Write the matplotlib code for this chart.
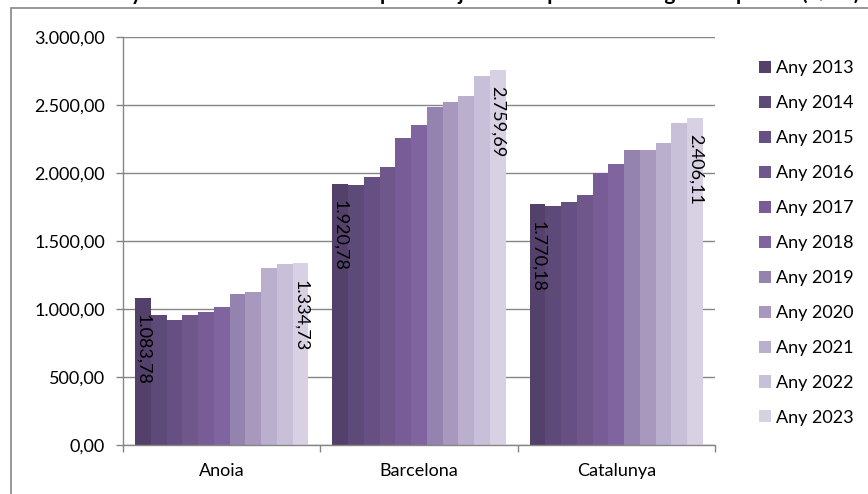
import numpy as np
import matplotlib.pyplot as plt
from matplotlib.patches import Rectangle, Patch
from matplotlib.ticker import FuncFormatter

plt.rcParams['font.family'] = ['Lato', 'DejaVu Sans']

# Dades: preu per zona i any
zones = ['Anoia', 'Barcelona', 'Catalunya']
anys = ['Any 2013', 'Any 2014', 'Any 2015', 'Any 2016', 'Any 2017', 'Any 2018',
        'Any 2019', 'Any 2020', 'Any 2021', 'Any 2022', 'Any 2023']
anoia = [1083.78, 956, 917, 956, 978, 1017, 1111, 1128, 1302, 1329, 1334.73]
barcelona = [1920.78, 1912, 1967, 2041, 2260, 2353, 2486, 2520, 2566, 2711, 2759.69]
catalunya = [1770.18, 1758, 1785, 1839, 2001, 2065, 2170, 2170, 2224, 2371, 2406.11]
colors = ['#53406B', '#5E4A78', '#664F83', '#6F578C', '#785C96', '#8064A0',
          '#9483AE', '#A898BE', '#BAB0CD', '#C8C0D9', '#D7D1E3']

valors = np.array([anoia, barcelona, catalunya])  # zona x any


def fmt_es(v, decimals=2):
    s = f'{v:,.{decimals}f}'
    return s.replace(',', 'X').replace('.', ',').replace('X', '.')


fig = plt.figure(figsize=(8.68, 4.94), dpi=100)
W, H = 868, 494

# marc exterior del gràfic
fig.patches.append(Rectangle((11 / W, -0.1), 1.2, 1 - 8 / H + 0.1, transform=fig.transFigure,
                             fill=False, edgecolor='#868686', linewidth=1.2))

# títol (tallat a la part superior, com a l'original)
fig.text(0.5, 1.0, "Gràfic 11. Any 2013-2023. Evolució del preu mitjà de compra d'habitatge usat per m² (€/m²)",
         ha='center', va='baseline', fontsize=15, fontweight='bold')

ax = fig.add_axes([123 / W, 1 - 445 / H, (715 - 123) / W, (445 - 37) / H])

n = len(anys)
group_w = 0.878
bw = group_w / n
x = np.arange(len(zones))
for i in range(n):
    pos = x - group_w / 2 + bw * (i + 0.5)
    ax.bar(pos, valors[:, i], width=bw, color=colors[i], edgecolor='none',
           label=anys[i], zorder=2)
    if i in (0, n - 1):
        for p, v in zip(pos, valors[:, i]):
            ax.annotate(fmt_es(v), (p, v), xytext=(0, -12), textcoords='offset points',
                        rotation=-90, ha='center', va='top', fontsize=13, color='black', zorder=3)

ax.set_xlim(-0.5, len(zones) - 0.5)
ax.set_ylim(0, 3000)
ax.set_yticks(np.arange(0, 3001, 500))
ax.yaxis.set_major_formatter(FuncFormatter(lambda v, p: fmt_es(v)))
ax.yaxis.grid(True, color='#868686', linewidth=1.0, zorder=0)
ax.set_axisbelow(True)

ax.set_xticks(np.arange(-0.5, len(zones), 1.0))
ax.set_xticklabels([])
ax.set_xticks(x, minor=True)
ax.set_xticklabels(zones, minor=True, fontsize=13)
ax.tick_params(axis='x', which='major', direction='out', length=5, color='#868686', width=1)
ax.tick_params(axis='x', which='minor', length=0, pad=13)
ax.tick_params(axis='y', direction='out', length=5, color='#868686', width=1, labelsize=13, pad=8)

for s in ['top', 'right']:
    ax.spines[s].set_visible(False)
for s in ['left', 'bottom']:
    ax.spines[s].set_color('#868686')
    ax.spines[s].set_linewidth(1.0)

handles = [Patch(facecolor=c, edgecolor='none') for c in colors]
fig.legend(handles, anys, loc='upper left', bbox_to_anchor=(752 / W, 1 - 53 / H),
           frameon=False, fontsize=13, handlelength=0.65, handleheight=0.65,
           handletextpad=0.3, labelspacing=1.05, borderaxespad=0)

fig.savefig('out.png', dpi=100)
